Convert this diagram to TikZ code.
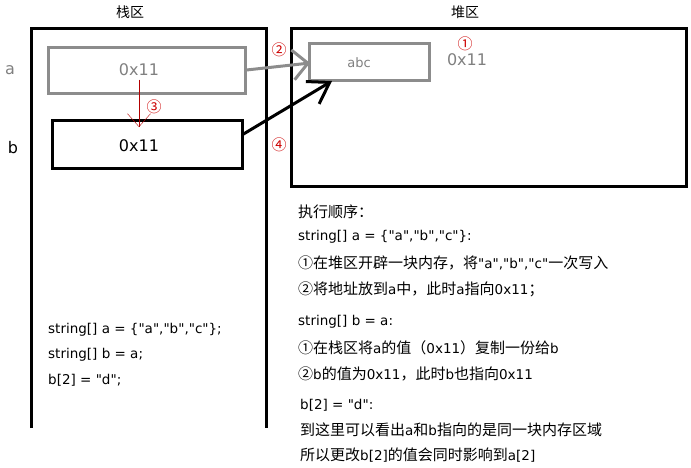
\documentclass[tikz,border=0pt]{standalone}
\usepackage{fontspec}
\setmainfont{DejaVu Sans}[Ligatures=TeXOff]
\newfontfamily\zhfam{Noto Sans CJK SC}[Ligatures=TeXOff]
\newcommand\zh{\zhfam\fontsize{15}{15}\selectfont}
\usetikzlibrary{arrows.meta, % for open arrow heads
                positioning}

\begin{document}
\begin{tikzpicture}[x=1pt, y=-1pt,
                    frame/.style={line width=3pt, black},
                    cell/.style={draw, line width=3pt, inner sep=0pt},
                    graycell/.style={cell, draw=gray!90, text=gray},
                    stepmark/.style={text=red!80!black, font=\zhfam\fontsize{15}{15}\selectfont},
                    codeline/.style={anchor=west, inner sep=0pt, font=\fontsize{13.5}{13.5}\selectfont},
                    grayarrow/.style={-{Straight Barb[length=15pt, width=30pt, line width=3pt]}, line width=3pt, gray!90},
                    blackarrow/.style={-{Straight Barb[length=20pt, width=26pt, line width=3pt]}, line width=3pt, black},
                    redarrow/.style={-{Straight Barb[length=13pt, width=23pt]}, thin, red!70!black}
                    ]

    \useasboundingbox (0,0) rectangle (691,467);

    % STACK %
    \draw[frame] (31,428) -- (31,28) -- (266,28) -- (266,428);
    \node[font=\zhfam\fontsize{14}{14}\selectfont] (stacktitle) at (130,12) {栈区};
    \node[font=\fontsize{16}{16}\selectfont, text=gray] (la) at (10,70) {a};
    \node[font=\fontsize{16}{16}\selectfont] (lb) at (13,148) {b};

    \node[graycell, minimum width=197pt, minimum height=46pt] (A) at (146.5,70) {};
    \node[font=\fontsize{16}{16}\selectfont, text=gray] (Aval) at (139,70) {0x11};
    \node[cell, minimum width=190pt, minimum height=48pt] (B) at (147,144) {};
    \node[font=\fontsize{16}{16}\selectfont] (Bval) at (139,146) {0x11};

    \node[codeline] (c1) at (48,330) {string[] a = \{"a","b","c"\};};
    \node[codeline] (c2) at (48,355) {string[] b = a;};
    \node[codeline] (c3) at (48,380) {b[2] = "d";};

    % HEAP %
    \draw[frame] (291,28) rectangle (686,186);
    \node[font=\zhfam\fontsize{14}{14}\selectfont] (heaptitle) at (465,12) {堆区};
    \node[graycell, minimum width=120pt, minimum height=37pt] (abc) at (369,61.5) {};
    \node[font=\fontsize{13}{13}\selectfont, text=gray] (abcval) at (359,63) {abc};
    \node[font=\fontsize{16}{16}\selectfont, text=gray] (addr) at (467,60) {0x11};

    % STEPS %
    \node[stepmark] (s1) at (465,44) {①};
    \node[stepmark] (s2) at (279,50) {②};
    \node[stepmark] (s3) at (154,107) {③};
    \node[stepmark] (s4) at (279,145) {④};

    % ARROWS %
    \coordinate (atip) at (310,63);
    \coordinate (btip) at (332,81);
    \coordinate (rtip) at (139,127);
    \draw[grayarrow] (A.east) -- (atip);
    \draw[redarrow] (Aval.south -| rtip) -- (rtip);
    \draw[blackarrow] ([yshift=10pt]B.east) -- (btip);

    % ORDER %
    \node[codeline] (o0) at (298,212) {\zh 执行顺序：};
    \node[codeline] (o1) at (298,237) {string[] a = \{"a","b","c"\}:};
    \node[codeline] (o2) at (298,263) {{\zh ①在堆区开辟一块内存，将}"a","b","c"{\zh 一次写入}};
    \node[codeline] (o3) at (298,289) {{\zh ②将地址放到}a{\zh 中，此时}a{\zh 指向}0x11{\zh ；}};
    \node[codeline] (o4) at (298,322) {string[] b = a:};
    \node[codeline] (o5) at (298,348) {{\zh ①在栈区将}a{\zh 的值（}0x11{\zh ）复制一份给}b};
    \node[codeline] (o6) at (298,374) {{\zh ②}b{\zh 的值为}0x11{\zh ，此时}b{\zh 也指向}0x11};
    \node[codeline] (o7) at (300,405) {b[2] = "d":};
    \node[codeline] (o8) at (300,430) {{\zh 到这里可以看出}a{\zh 和}b{\zh 指向的是同一块内存区域}};
    \node[codeline] (o9) at (300,455) {{\zh 所以更改}b[2]{\zh 的值会同时影响到}a[2]};
\end{tikzpicture}
\end{document}
